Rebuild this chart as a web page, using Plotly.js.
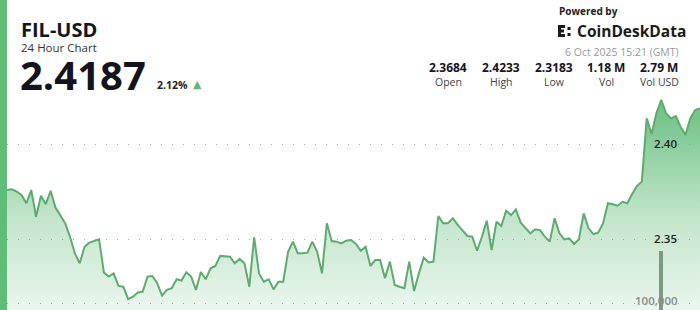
<!DOCTYPE html>
<html>
<head>
<meta charset="utf-8">
<script src="https://cdn.plot.ly/plotly-3.0.1.min.js"></script>
<style>
  html, body { margin: 0; padding: 0; background: #fff; }
  #chart { width: 700px; height: 310px; }
</style>
</head>
<body>
<div id="chart"></div>
<script>
// ---- data (10-minute points over 24h) ----
const prices = [
  2.3758, 2.3762, 2.3749, 2.3732, 2.3688, 2.3758, 2.3617, 2.3728, 2.3683, 2.3754,
  2.3665, 2.3626, 2.3583, 2.3512, 2.3425, 2.3372, 2.3459, 2.3481, 2.3491, 2.3498,
  2.3323, 2.3302, 2.3319, 2.3253, 2.3249, 2.3183, 2.3196, 2.3219, 2.3223, 2.3302,
  2.3305, 2.3267, 2.3202, 2.3232, 2.3241, 2.3288, 2.3281, 2.3325, 2.3302, 2.3232,
  2.3326, 2.3288, 2.3346, 2.3358, 2.3411, 2.3407, 2.3407, 2.3372, 2.3395, 2.3372,
  2.3249, 2.3509, 2.3319, 2.3275, 2.3288, 2.3235, 2.3275, 2.3275, 2.3433, 2.3486,
  2.3425, 2.3425, 2.3428, 2.3486, 2.3433, 2.3319, 2.3583, 2.3489, 2.3486, 2.3477,
  2.3491, 2.3495, 2.3474, 2.3438, 2.3459, 2.3358, 2.3389, 2.3389, 2.3293, 2.3381,
  2.3258, 2.3249, 2.3241, 2.3381, 2.3226, 2.3319, 2.3402, 2.3377, 2.3381, 2.3621,
  2.3583, 2.3583, 2.3609, 2.3574, 2.3542, 2.3516, 2.3512, 2.3438, 2.3512, 2.3596,
  2.3442, 2.3591, 2.3568, 2.3649, 2.3626, 2.3656, 2.3586, 2.3556, 2.3530, 2.3551,
  2.3547, 2.3512, 2.3486, 2.3609, 2.3530, 2.3498, 2.3504, 2.3474, 2.3498, 2.3635,
  2.3556, 2.3526, 2.3533, 2.3583, 2.3688, 2.3683, 2.3675, 2.3696, 2.3688, 2.3737,
  2.3779, 2.3802, 2.4135, 2.4053, 2.4162, 2.4233, 2.4162, 2.4135, 2.4147, 2.4091,
  2.4047, 2.4135, 2.4179, 2.4187
];
const volIndex = [135];
const volValues = [843000];

const priceTicks = [2.35, 2.40];
const priceTickText = ['2.35', '2.40'];
const volTicks = [100000];
const volTickText = ['100,000'];

const pair = 'FIL-USD';
const subtitle = '24 Hour Chart';
const lastPrice = '2.4187';
const change = '2.12%';
const statValues = ['2.3684', '2.4233', '2.3183', '1.18 M', '2.79 M'];
const statLabels = ['Open', 'High', 'Low', 'Vol', 'Vol USD'];
const dateText = '6 Oct 2025 15:21 (GMT)';

// ---- layout helpers (pixel -> paper) ----
const W = 700, H = 310, ML = 7;
const PW = W - ML;
const px = x => (x - ML) / PW;
const py = y => 1 - y / H;

const idx = prices.map((_, i) => i);
const FONT = 'Open Sans, Noto Sans, sans-serif';
const green = '#5fb874';

const traces = [
  {
    x: idx, y: prices, type: 'scatter', mode: 'lines',
    line: { color: '#5eab6f', width: 2 },
    fill: 'tozeroy',
    fillgradient: {
      type: 'vertical',
      start: 2.3126, stop: 2.4242,
      colorscale: [
        [0, 'rgba(92,185,116,0.13)'],
        [0.45, 'rgba(92,185,116,0.38)'],
        [1, 'rgba(92,185,116,0.92)']
      ]
    },
    hoverinfo: 'skip'
  },
  {
    x: volIndex, y: volValues, type: 'bar', yaxis: 'y2',
    width: 0.78, marker: { color: '#7b9a81' }, hoverinfo: 'skip'
  }
];

function ann(text, x, y, opts) {
  return Object.assign({
    text: text, xref: 'paper', yref: 'paper', x: px(x), y: py(y),
    showarrow: false, xanchor: 'left', yanchor: 'middle',
    font: { family: FONT, size: 11, color: '#222' }
  }, opts || {});
}

const annotations = [
  ann('<span style="font-size:20px;font-weight:bold;color:#14151c">' + pair + '</span><br>' + subtitle,
    19, 36, { align: 'left', font: { family: FONT, size: 11.5, color: '#333' } }),
  ann('<b>' + lastPrice + '</b>', 18, 74, { font: { family: FONT, size: 40, color: '#14151c' } }),
  ann('<b>' + change + '</b>', 155, 85, { font: { family: FONT, size: 10.5, color: '#222' } }),
  ann('▲', 198, 84.5, { xanchor: 'center', font: { family: 'DejaVu Sans', size: 11, color: green } }),
  ann('<b>Powered by</b>', 557, 11, { font: { family: FONT, size: 10, color: '#222' } }),
  ann('<b>CoinDeskData</b>', 575, 31, { font: { family: FONT, size: 15.5, color: '#1a1a1a' } }),
  ann(dateText, 681, 51.5, { xanchor: 'right', font: { family: FONT, size: 10.5, color: '#999' } }),
  ann(volTickText[0], 680, 300, { xanchor: 'right', font: { family: FONT, size: 11.5, color: '#8a8a8a', weight: 600 } })
];
const statCenters = [448, 501, 554, 606, 659];
statValues.forEach((v, i) => {
  annotations.push(ann('<b>' + v + '</b>', statCenters[i], 67.5,
    { xanchor: 'center', font: { family: FONT, size: 12, color: '#14151c' } }));
  annotations.push(ann(statLabels[i], statCenters[i], 82,
    { xanchor: 'center', font: { family: FONT, size: 10.5, color: '#444' } }));
});

// logo squares (pixel style)
const logoRects = [
  [558, 25, 561, 37], [561, 25, 565, 28], [561, 34, 565, 37], [561, 29.5, 564, 32.5],
  [567.5, 27, 570.5, 30], [567.5, 33, 570.5, 36]
];
const shapes = [
  { type: 'rect', xref: 'paper', yref: 'paper', x0: px(0), x1: px(ML), y0: 0, y1: 1,
    fillcolor: '#60bd77', line: { width: 0 }, layer: 'above' }
];
logoRects.forEach(r => shapes.push({
  type: 'rect', xref: 'paper', yref: 'paper', x0: px(r[0]), x1: px(r[2]), y0: py(r[3]), y1: py(r[1]),
  fillcolor: '#1a1a1a', line: { width: 0 }
}));

const layout = {
  width: W, height: H,
  margin: { l: ML, r: 0, t: 0, b: 0, pad: 0 },
  paper_bgcolor: '#ffffff', plot_bgcolor: '#ffffff',
  showlegend: false,
  xaxis: { range: [0, prices.length - 1], visible: false, fixedrange: true },
  yaxis: {
    range: [2.40 - 166 / 1900, 2.40 + 144 / 1900],
    side: 'right', tickvals: priceTicks, ticktext: priceTickText,
    ticklabelposition: 'inside', ticks: '', ticklabelstandoff: 20,
    showgrid: true, gridcolor: '#a8a8a8', gridwidth: 1, griddash: '1px,10px',
    zeroline: false, showline: false,
    tickfont: { family: FONT, size: 11.5, color: '#1c1c1c', weight: 600 }
  },
  yaxis2: {
    overlaying: 'y', side: 'right', range: [0, 100000 * 310 / 7],
    tickvals: volTicks, showticklabels: false, ticks: '',
    showgrid: true, gridcolor: '#a8a8a8', gridwidth: 1, griddash: '1px,10px',
    zeroline: false, showline: false
  },
  annotations: annotations,
  shapes: shapes,
  bargap: 0
};

Plotly.newPlot('chart', traces, layout, { staticPlot: true, displayModeBar: false });
</script>
</body>
</html>
